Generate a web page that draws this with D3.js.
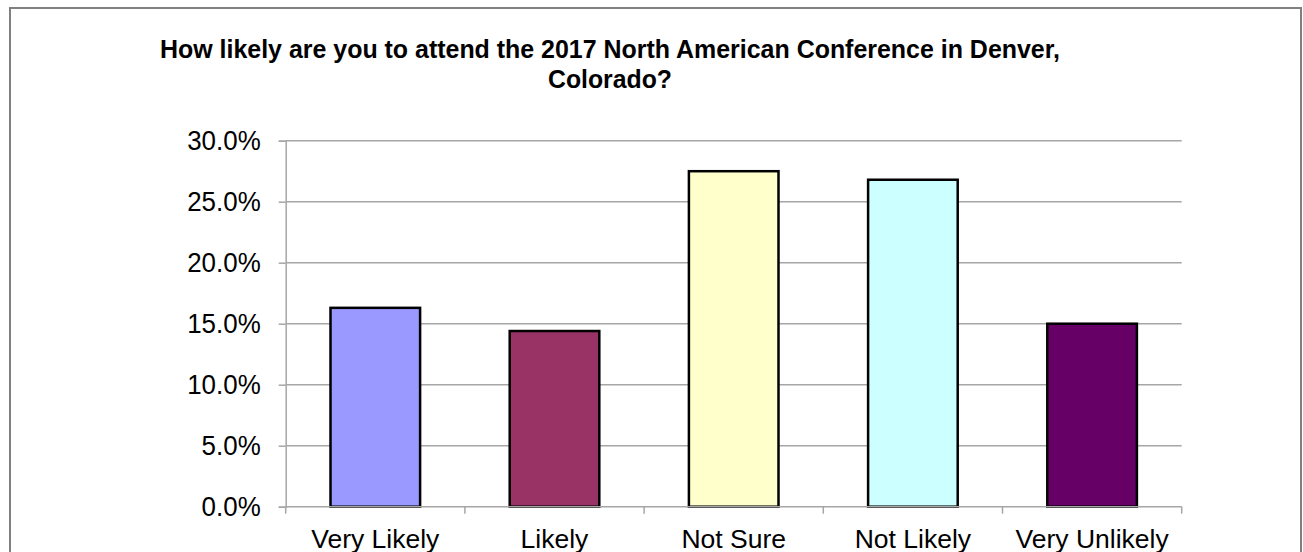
<!DOCTYPE html>
<html>
<head>
<meta charset="utf-8">
<script src="https://cdn.jsdelivr.net/npm/d3@7"></script>
<style>
  html, body { margin: 0; padding: 0; background: #fff; }
  svg { display: block; font-family: "Liberation Sans", Arial, sans-serif; }
</style>
</head>
<body>
<svg id="chart" width="1303" height="552"></svg>
<script>
const categories = ["Very Likely", "Likely", "Not Sure", "Not Likely", "Very Unlikely"];
const values = [16.3, 14.4, 27.5, 26.8, 15.0];
const barColors = ["#9999FF", "#993366", "#FFFFCC", "#CCFFFF", "#660066"];
const yTicks = [0, 5, 10, 15, 20, 25, 30];
const titleLines = ["How likely are you to attend the 2017 North American Conference in Denver,", "Colorado?"];

const svg = d3.select("#chart");

// outer frame
svg.append("rect")
  .attr("x", 10).attr("y", 8)
  .attr("width", 1291).attr("height", 600)
  .attr("fill", "#fff")
  .attr("stroke", "#808080").attr("stroke-width", 2);

const plot = { left: 285.7, right: 1181.7, top: 140.7, bottom: 506.7 };

const x = d3.scaleBand()
  .domain(categories)
  .range([plot.left, plot.right])
  .paddingInner(0.5)
  .paddingOuter(0.25);

const y = d3.scaleLinear()
  .domain([0, 30])
  .range([plot.bottom, plot.top]);

// title
const tl = [{t: titleLines[0], w: 900, b: 57.7}, {t: titleLines[1], w: 124, b: 88}];
svg.append("g").selectAll("text").data(tl).join("text")
  .attr("x", 610).attr("y", d => d.b)
  .attr("text-anchor", "middle")
  .attr("font-size", 26.5).attr("font-weight", "bold")
  .attr("fill", "#000")
  .attr("textLength", d => d.w)
  .attr("lengthAdjust", "spacingAndGlyphs")
  .text(d => d.t);

// gridlines
svg.append("g").selectAll("line").data(yTicks.filter(d => d > 0)).join("line")
  .attr("x1", plot.left).attr("x2", plot.right)
  .attr("y1", d => y(d)).attr("y2", d => y(d))
  .attr("stroke", "#a6a6a6").attr("stroke-width", 1.5);

// y axis
const yAxis = d3.axisLeft(y).tickValues(yTicks).tickSize(7).tickPadding(18)
  .tickFormat(d => d3.format(".1f")(d) + "%");
const gy = svg.append("g").attr("transform", `translate(${plot.left},0)`).call(yAxis);
gy.select(".domain").attr("stroke", "#a6a6a6").attr("stroke-width", 1.5);
gy.selectAll(".tick line").attr("stroke", "#a6a6a6").attr("stroke-width", 1.5);
gy.selectAll(".tick text").attr("font-size", 27).attr("fill", "#000")
  .attr("font-family", "Liberation Sans, Arial, sans-serif")
  .attr("dy", "0.34em")
  .each(function() {
    const len = this.getComputedTextLength();
    d3.select(this).attr("textLength", len * 0.96).attr("lengthAdjust", "spacingAndGlyphs");
  });

// bars
svg.append("g").selectAll("rect").data(categories).join("rect")
  .attr("x", d => x(d))
  .attr("y", (d, i) => y(values[i]))
  .attr("width", x.bandwidth())
  .attr("height", (d, i) => y(0) - y(values[i]))
  .attr("fill", (d, i) => barColors[i])
  .attr("stroke", "#000").attr("stroke-width", 2.5);

// x axis baseline and ticks at band boundaries
const boundaries = categories.map(c => x(c) - x.step() * 0.25).concat([plot.right]);
const gx = svg.append("g");
gx.append("line")
  .attr("x1", plot.left).attr("x2", plot.right)
  .attr("y1", y(0)).attr("y2", y(0))
  .attr("stroke", "#a6a6a6").attr("stroke-width", 1.5);
gx.selectAll("line.tk").data(boundaries).join("line").attr("class", "tk")
  .attr("x1", d => d).attr("x2", d => d)
  .attr("y1", y(0)).attr("y2", y(0) + 7)
  .attr("stroke", "#a6a6a6").attr("stroke-width", 1.5);
gx.selectAll("text").data(categories).join("text")
  .attr("x", d => x(d) + x.bandwidth() / 2)
  .attr("y", 547.5)
  .attr("text-anchor", "middle")
  .attr("font-size", 26.5).attr("fill", "#000")
  .text(d => d);
</script>
</body>
</html>
